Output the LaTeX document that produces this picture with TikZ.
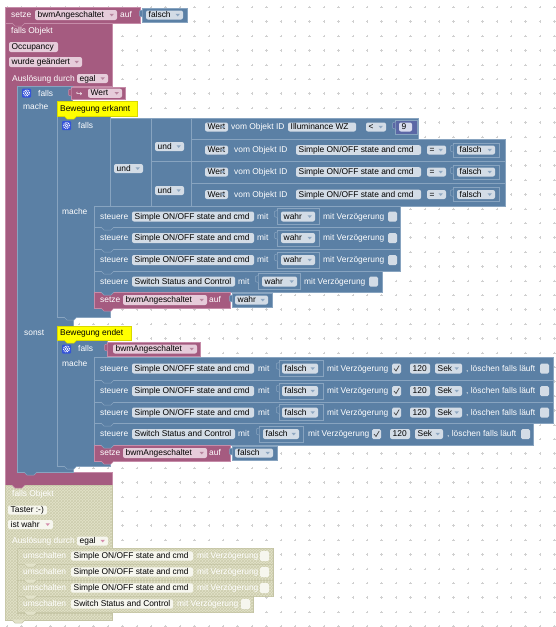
\documentclass[tikz,border=0pt]{standalone}
\usepackage{fontspec}
\setmainfont{Liberation Sans}
\newfontfamily\symf{DejaVu Sans}
\usetikzlibrary{calc,patterns}
\definecolor{mag}{HTML}{A55B80}
\definecolor{magln}{HTML}{C68CA9}
\definecolor{magfld}{HTML}{E6CCDA}
\definecolor{magarr}{HTML}{B7859E}
\definecolor{blu}{HTML}{5B80A5}
\definecolor{bluln}{HTML}{88A4C0}
\definecolor{blufld}{HTML}{D3DCE6}
\definecolor{bluarr}{HTML}{8EA7C1}
\definecolor{numc}{HTML}{5B67A5}
\definecolor{numfld}{HTML}{D8DBEE}
\definecolor{yel}{HTML}{FFFF00}
\definecolor{yelln}{HTML}{D8D800}
\definecolor{dis}{HTML}{E2E2C9}
\definecolor{dishatch}{HTML}{CDCDAE}
\definecolor{disln}{HTML}{C4C4A4}
\definecolor{disfld}{HTML}{F6F6EE}
\definecolor{disarr}{HTML}{D58CAB}
\definecolor{gridc}{HTML}{D0D0D0}
\definecolor{gearc}{HTML}{3453D9}
\newcounter{bknd}
\newcommand\tf{\fontsize{8.4}{10}\selectfont}
\newcommand\bkLbl[3]{\stepcounter{bknd}\node[lbl] (t\arabic{bknd}) at (#1,#2) {#3};}
\newcommand\bkFld[6]{\fill[#5, rounded corners=2pt] (#1,#2) rectangle (#3,#4);
  \stepcounter{bknd}\path (#1,#2) -- (#1,#4) node[pos=0.5, ftx, xshift=2.5pt] (t\arabic{bknd}) {#6};}
\newcommand\bkDd[7]{\bkFld{#1}{#2}{#3}{#4}{#5}{#6}
  \path (#3,#2) -- (#3,#4) coordinate[pos=0.5] (dd);
  \fill[#7] ($(dd)+(-7.5,-1.2)$) -- ++(4.4,0) -- ++(-2.2,2.6) -- cycle;}
\newcommand\bkCb[4]{\fill[#4, rounded corners=1.5pt] (#1,#2-5) rectangle (#1+9,#2+5);
  \ifnum#3=1 \draw[black!75, line width=0.7pt] (#1+2,#2) -- (#1+4,#2+2.5) -- (#1+7.2,#2-3);\fi}
\newcommand\bkVb[6]{\draw[fill=#5, draw=#6, line width=0.5pt] (#1,#2) rectangle (#3,#4);
  \fill[#5] (#1+0.3,#2+2) -- (#1-2.5,#2+3) -- (#1-2.5,#2+8) -- (#1+0.3,#2+9) -- cycle;
  \draw[#6, line width=0.5pt] (#1,#2+2) -- (#1-2.5,#2+3) -- (#1-2.5,#2+8) -- (#1,#2+9);}
\newcommand\bkTab[4]{\fill[#3] (#1+7,#2-0.3) -- (#1+10,#2+3) -- (#1+17,#2+3) -- (#1+20,#2-0.3) -- cycle;
  \draw[#4, line width=0.5pt] (#1+7,#2) -- (#1+10,#2+3) -- (#1+17,#2+3) -- (#1+20,#2);}
\newcommand\bkGear[2]{\fill[gearc, rounded corners=1pt] (#1,#2) rectangle (#1+9,#2+9);
  \draw[white, line width=0.7pt] (#1+4.5,#2+4.5) circle (1.5pt);
  \draw[white, line width=1.1pt, dash pattern=on 0.9pt off 0.9pt] (#1+4.5,#2+4.5) circle (3pt);}
\begin{document}
\begin{tikzpicture}[x=1pt,y=-1pt,
  lbl/.style={anchor=mid west, inner sep=0pt, text=white, font=\tf},
  ftx/.style={anchor=mid west, inner sep=0pt, text=black, font=\tf},
  bblk/.style={fill=blu, draw=bluln, line width=0.5pt},
  mblk/.style={fill=mag, draw=magln, line width=0.5pt},
  dblk/.style={fill=dis, draw=disln, line width=0.5pt, postaction={pattern=crosshatch, pattern color=dishatch}},
  cmt/.style={fill=yel, draw=yelln, line width=0.5pt}]
\useasboundingbox (0,0) rectangle (556,627);
\fill[white] (0,0) rectangle (556,627);
% grid
\foreach \i in {0,...,38}{\foreach \j in {0,...,43}{
  \draw[gridc, line width=0.45pt] (7.2+14.4*\i-1.2,7.2+14.4*\j) -- ++(2.4,0) (7.2+14.4*\i,7.2+14.4*\j-1.2) -- ++(0,2.4);}}
% ---------- trigger + top setze ----------
\draw[mblk] (5,23) -- (112,23) -- (112,86) -- (17,86) -- (17,472) -- (112,472) -- (112,485) -- (5,485) -- cycle;
\draw[mblk] (5,7) -- (140,7) -- (140,23) -- (5,23) -- cycle;
\bkLbl{11}{15}{setze}
\bkDd{35}{10}{117}{20}{magfld}{bwmAngeschaltet}{magarr}
\bkLbl{120}{15}{auf}
\bkVb{142}{8}{187}{22}{blu}{bluln}
\bkDd{146}{10.5}{183}{19.5}{blufld}{falsch}{bluarr}
\bkLbl{11}{31}{falls Objekt}
\bkFld{9}{42}{58}{52}{magfld}{Occupancy}
\bkDd{9}{57}{82}{67}{magfld}{wurde geändert}{magarr}
\bkLbl{12}{78.5}{Auslösung durch}
\bkDd{77}{74}{108}{83}{magfld}{egal}{magarr}
% ---------- disabled block ----------
\path[dblk] (5,485) -- (112,485) -- (112,548) -- (17,548) -- (17,613) -- (112,613) -- (112,620) -- (5,620) -- cycle;
\bkLbl{12}{494}{falls Objekt}
\bkFld{8}{505.5}{47}{514.5}{disfld}{Taster :-)}
\bkDd{8}{520}{53}{529}{disfld}{ist wahr}{disarr}
\bkLbl{12}{541}{Auslösung durch}
\bkDd{77}{536.5}{108}{545.5}{disfld}{egal}{disarr}
\foreach \a/\b in {548/564,564/580,580/596}{
  \path[dblk] (17,\a) rectangle (273,\b);
  \pgfmathsetmacro\m{(\a+\b)/2}
  \bkLbl{23}{\m}{umschalten}
  \bkFld{71}{\m-4.6}{193}{\m+4.6}{disfld}{Simple ON/OFF state and cmd}
  \bkLbl{197}{\m}{mit Verzögerung}
  \bkCb{260}{\m}{0}{disfld}}
\path[dblk] (17,596) rectangle (253,612);
\bkLbl{23}{604}{umschalten}
\bkFld{71}{599.4}{173}{608.6}{disfld}{Switch Status and Control}
\bkLbl{177}{604}{mit Verzögerung}
\bkCb{241}{604}{0}{disfld}
% ---------- outer if ----------
\draw[bblk] (17,86) -- (72,86) -- (72,101) -- (57,101) -- (57,317) -- (73,317) -- (73,326) -- (57,326) -- (57,466) -- (73,466) -- (73,472) -- (17,472) -- cycle;
\bkGear{22}{88.5}
\bkLbl{38}{93.5}{falls}
\bkVb{71}{87}{125}{99.5}{mag}{magln}
\stepcounter{bknd}\node[lbl, font=\symf\fontsize{7.5}{9}\selectfont] (t\arabic{bknd}) at (76,93.5) {↪};
\bkDd{88}{88.7}{122}{97.8}{magfld}{Wert}{magarr}
\bkLbl{23}{107}{mache}
\bkLbl{24}{333}{sonst}
% ---------- comment 1 + nested if 1 ----------
\draw[bblk] (57,116) -- (110,116) -- (110,206) -- (94,206) -- (94,308) -- (110,308) -- (110,317) -- (57,317) -- cycle;
\draw[cmt] (57,101) rectangle (137,116);
\bkTab{57}{116}{yel}{yelln}
\stepcounter{bknd}\node[ftx] (t\arabic{bknd}) at (60,108.5) {Bewegung erkannt};
\bkGear{62}{121}
\bkLbl{78}{125.5}{falls}
\bkLbl{62}{212}{mache}
% condition
\draw[bblk] (110,118) rectangle (151,206);
\draw[bblk] (151,118) rectangle (191,161);
\draw[bblk] (151,161) rectangle (191,206);
\bkDd{114}{164}{143}{173}{blufld}{und}{bluarr}
\bkDd{155}{142}{184}{151}{blufld}{und}{bluarr}
\bkDd{155}{186}{184}{195}{blufld}{und}{bluarr}
\draw[bblk] (191,118) rectangle (418,139);
\bkDd{205}{122.5}{228}{131.5}{blufld}{Wert}{bluarr}
\bkLbl{231}{127}{vom Objekt ID}
\bkFld{288}{122.5}{356}{131.5}{blufld}{Illuminance WZ}
\bkDd{366}{122.5}{386}{131.5}{blufld}{<}{bluarr}
\bkVb{395}{120}{417}{134}{numc}{bluln}
\bkFld{399}{122.5}{412}{131.5}{numfld}{9}
\foreach \a/\b in {139/161,161/183,183/206}{
  \draw[bblk] (191,\a) rectangle (505,\b);
  \pgfmathsetmacro\m{(\a+\b)/2}
  \bkDd{205}{\m-4.5}{228}{\m+4.5}{blufld}{Wert}{bluarr}
  \bkLbl{234}{\m}{vom Objekt ID}
  \bkFld{296}{\m-4.8}{421}{\m+4.8}{blufld}{Simple ON/OFF state and cmd}
  \bkDd{427}{\m-4.5}{446}{\m+4.5}{blufld}{=}{bluarr}
  \bkVb{453}{\m-7}{499}{\m+7}{blu}{bluln}
  \bkDd{457}{\m-4.5}{495}{\m+4.5}{blufld}{falsch}{bluarr}}
% statements 1
\foreach \a/\b in {206/227,227/249,249/271}{
  \draw[bblk] (94,\a) rectangle (400,\b);
  \pgfmathsetmacro\m{(\a+\b)/2}
  \bkLbl{100}{\m}{steuere}
  \bkFld{132}{\m-5}{254}{\m+5}{blufld}{Simple ON/OFF state and cmd}
  \bkLbl{257}{\m}{mit}
  \bkVb{277}{\m-8}{319}{\m+8}{blu}{bluln}
  \bkDd{281}{\m-5}{315}{\m+5}{blufld}{wahr}{bluarr}
  \bkLbl{323}{\m}{mit Verzögerung}
  \bkCb{388}{\m}{0}{blufld}}
\draw[bblk] (94,271) rectangle (382,292);
\bkLbl{100}{281.5}{steuere}
\bkFld{132}{276.5}{235}{286.5}{blufld}{Switch Status and Control}
\bkLbl{238}{281.5}{mit}
\bkVb{258}{273.5}{300}{289.5}{blu}{bluln}
\bkDd{262}{276.5}{297}{286.5}{blufld}{wahr}{bluarr}
\bkLbl{304}{281.5}{mit Verzögerung}
\bkCb{369}{281.5}{0}{blufld}
\draw[mblk] (94,292) rectangle (230,308);
\bkLbl{100}{300}{setze}
\bkDd{123}{295}{207}{305}{magfld}{bwmAngeschaltet}{magarr}
\bkLbl{209}{300}{auf}
\bkVb{232}{293}{272}{307}{blu}{bluln}
\bkDd{235}{295.5}{268}{304.5}{blufld}{wahr}{bluarr}
% ---------- comment 2 + nested if 2 ----------
\draw[bblk] (57,340) -- (107,340) -- (107,357) -- (94,357) -- (94,461) -- (110,461) -- (110,466) -- (57,466) -- cycle;
\draw[cmt] (57,326) rectangle (131,340);
\bkTab{57}{340}{yel}{yelln}
\stepcounter{bknd}\node[ftx] (t\arabic{bknd}) at (60,333) {Bewegung endet};
\bkGear{62}{344.5}
\bkLbl{78}{349}{falls}
\bkVb{107}{342}{200}{356}{mag}{magln}
\bkDd{113}{344.5}{197}{353.5}{magfld}{bwmAngeschaltet}{magarr}
\bkLbl{62}{364}{mache}
\foreach \a/\b in {357/380,380/402,402/423}{
  \draw[bblk] (94,\a) rectangle (553,\b);
  \pgfmathsetmacro\m{(\a+\b)/2}
  \bkLbl{100}{\m}{steuere}
  \bkFld{132}{\m-5}{254}{\m+5}{blufld}{Simple ON/OFF state and cmd}
  \bkLbl{258}{\m}{mit}
  \bkVb{279}{\m-8}{323}{\m+8}{blu}{bluln}
  \bkDd{282}{\m-5}{318}{\m+5}{blufld}{falsch}{bluarr}
  \bkLbl{327}{\m}{mit Verzögerung}
  \bkCb{392}{\m}{1}{blufld}
  \bkFld{410}{\m-5}{430}{\m+5}{blufld}{120}
  \bkDd{435}{\m-5}{462}{\m+5}{blufld}{Sek}{bluarr}
  \bkLbl{466}{\m}{, löschen falls läuft}
  \bkCb{540}{\m}{0}{blufld}}
\draw[bblk] (94,423) rectangle (533,445);
\bkLbl{100}{434}{steuere}
\bkFld{132}{429}{235}{439}{blufld}{Switch Status and Control}
\bkLbl{238}{434}{mit}
\bkVb{259}{426}{303}{442}{blu}{bluln}
\bkDd{263}{429}{299}{439}{blufld}{falsch}{bluarr}
\bkLbl{308}{434}{mit Verzögerung}
\bkCb{372}{434}{1}{blufld}
\bkFld{390}{429}{410}{439}{blufld}{120}
\bkDd{415}{429}{443}{439}{blufld}{Sek}{bluarr}
\bkLbl{447}{434}{, löschen falls läuft}
\bkCb{521}{434}{0}{blufld}
\draw[mblk] (94,445) rectangle (230,461);
\bkLbl{100}{453}{setze}
\bkDd{123}{448}{207}{458}{magfld}{bwmAngeschaltet}{magarr}
\bkLbl{209}{453}{auf}
\bkVb{232}{446}{277}{460}{blu}{bluln}
\bkDd{235}{448.5}{273}{457.5}{blufld}{falsch}{bluarr}
% ---------- statement tabs ----------
\foreach \y in {227,249,271,292}{\bkTab{94}{\y}{blu}{bluln}}
\bkTab{94}{308}{mag}{magln}
\foreach \y in {380,402,423,445}{\bkTab{94}{\y}{blu}{bluln}}
\bkTab{94}{461}{mag}{magln}
\bkTab{57}{317}{blu}{bluln}
\bkTab{57}{466}{blu}{bluln}
\bkTab{17}{472}{blu}{bluln}
\bkTab{5}{23}{mag}{magln}
\bkTab{5}{485}{mag}{magln}
\foreach \y in {564,580,596,612}{\bkTab{17}{\y}{dis}{disln}}
\bkTab{5}{620}{dis}{disln}
\end{tikzpicture}
\end{document}
